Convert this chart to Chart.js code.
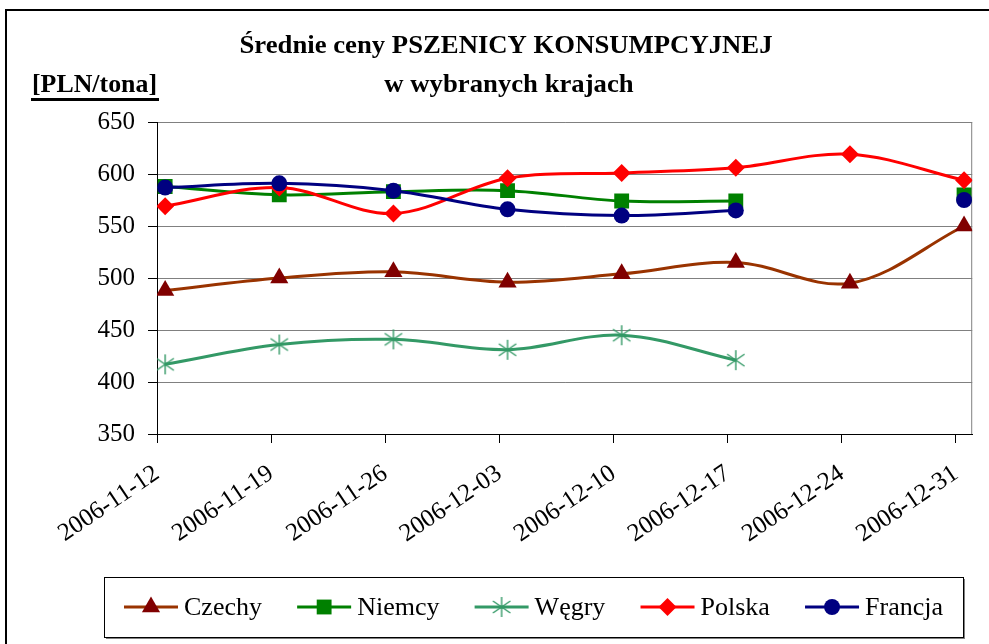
<!DOCTYPE html>
<html>
<head>
<meta charset="utf-8">
<script src="https://cdn.jsdelivr.net/npm/chart.js@4"></script>
<style>
  html, body { margin: 0; padding: 0; background: #fff; }
  #wrap { width: 989px; height: 644px; }
</style>
</head>
<body>
<div id="wrap"><canvas id="chart" width="989" height="644"></canvas></div>
<script>
// week labels on the x axis and where they sit (days from 2006-11-12)
const dates = ['2006-11-12', '2006-11-19', '2006-11-26', '2006-12-03', '2006-12-10', '2006-12-17', '2006-12-24', '2006-12-31'];
const tickDays = [0, 7, 14, 21, 28, 35, 42, 49];
// quotes are a bit to the right of each week tick
const pointDays = [0.5, 7.5, 14.5, 21.5, 28.5, 35.5, 42.5, 49.5];

const czechy  = [488, 500, 506, 496, 504, 515, 495, 550];
const niemcy  = [588, 580, 583, 584, 574, 574, null, 580];
const wegry   = [417, 436, 441, 431, 445, 421, null, null];
const polska  = [569, 587, 562, 596, 601, 606, 619, 594];
const francja = [587, 591, 584, 566, 560, 565, null, 575];

const seriesNames = ['Czechy', 'Niemcy', 'Węgry', 'Polska', 'Francja'];
const yTicks = [350, 400, 450, 500, 550, 600, 650];

const SERIF = '"Liberation Serif", "Times New Roman", serif';

// asterisk marker like the excel "star"
function makeStar(color, r) {
  const c = document.createElement('canvas');
  c.width = c.height = r * 2 + 2;
  const g = c.getContext('2d');
  g.strokeStyle = color;
  g.lineWidth = 1.4;
  const m = r + 1;
  g.beginPath();
  g.moveTo(m, m - r); g.lineTo(m, m + r);
  g.moveTo(m - r * 0.87, m - r * 0.6); g.lineTo(m + r * 0.87, m + r * 0.6);
  g.moveTo(m - r * 0.87, m + r * 0.6); g.lineTo(m + r * 0.87, m - r * 0.6);
  g.stroke();
  return c;
}
const starImg = makeStar('#339966', 10);

const styles = [
  { line: '#993300', fill: '#800000', point: 'triangle', r: 10.5 },
  { line: '#008000', fill: '#008000', point: 'rect', r: 10.5 },
  { line: '#339966', fill: '#339966', point: starImg, r: 10 },
  { line: '#ff0000', fill: '#ff0000', point: 'rectRot', r: 9 },
  { line: '#000080', fill: '#000080', point: 'circle', r: 8 }
];

const toPoints = (vals) => vals.map((v, i) => ({ x: pointDays[i], y: v }));
const allValues = [czechy, niemcy, wegry, polska, francja];

const datasets = allValues.map((vals, i) => ({
  label: seriesNames[i],
  data: toPoints(vals),
  borderColor: styles[i].line,
  backgroundColor: styles[i].fill,
  pointBackgroundColor: styles[i].fill,
  pointBorderColor: styles[i].fill,
  pointBorderWidth: 0,
  pointStyle: styles[i].point,
  pointRadius: styles[i].r,
  borderWidth: 3,
  tension: 0.35,
  spanGaps: false,
  order: allValues.length - i
}));

function fitText(ctx, text, cx, cy, scaleX) {
  ctx.save();
  ctx.translate(cx, cy);
  ctx.scale(scaleX, 1);
  ctx.fillText(text, 0, 0);
  ctx.restore();
}

const decorations = {
  id: 'decorations',
  beforeDraw(chart) {
    const ctx = chart.ctx;
    ctx.save();
    ctx.fillStyle = '#fff';
    ctx.fillRect(0, 0, chart.width, chart.height);
    // outer frame
    ctx.strokeStyle = '#000';
    ctx.lineWidth = 2;
    ctx.strokeRect(6, 10, 1000, 700);

    // title
    ctx.fillStyle = '#000';
    ctx.textAlign = 'center';
    ctx.textBaseline = 'middle';
    ctx.font = 'bold 25px ' + SERIF;
    const t1 = 'Średnie ceny PSZENICY KONSUMPCYJNEJ';
    const sx = 533 / ctx.measureText(t1).width;
    fitText(ctx, t1, 506, 47, sx);
    fitText(ctx, 'w wybranych krajach', 509, 86, sx);

    // unit label
    ctx.textAlign = 'left';
    const unit = '[PLN/tona]';
    const uw = ctx.measureText(unit).width;
    ctx.save();
    ctx.translate(32, 86);
    ctx.scale(125 / uw, 1);
    ctx.fillText(unit, 0, 0);
    ctx.restore();
    ctx.fillRect(31, 98, 128, 3);
    ctx.restore();
  },
  beforeDatasetsDraw(chart) {
    const { ctx, chartArea: a } = chart;
    ctx.save();
    ctx.strokeStyle = '#808080';
    ctx.lineWidth = 1;
    ctx.beginPath();
    ctx.moveTo(a.right - 0.5, a.top);
    ctx.lineTo(a.right - 0.5, a.bottom);
    ctx.stroke();
    ctx.restore();
  },
  afterDraw(chart) {
    const ctx = chart.ctx;
    const box = { x: 104, y: 577, w: 859, h: 60 };
    ctx.save();
    // legend box with a soft shadow
    ctx.strokeStyle = '#808080';
    ctx.lineWidth = 2;
    ctx.beginPath();
    ctx.moveTo(box.x + box.w + 1, box.y + 2);
    ctx.lineTo(box.x + box.w + 1, box.y + box.h + 1);
    ctx.lineTo(box.x + 2, box.y + box.h + 1);
    ctx.stroke();
    ctx.strokeStyle = '#000';
    ctx.lineWidth = 1;
    ctx.strokeRect(box.x + 0.5, box.y + 0.5, box.w, box.h);

    ctx.font = '26px ' + SERIF;
    ctx.textBaseline = 'middle';
    ctx.textAlign = 'left';
    const lineLen = 54, gapText = 6;
    const widths = seriesNames.map(n => lineLen + gapText + ctx.measureText(n).width);
    const used = widths.reduce((s, w) => s + w, 0);
    const gap = (box.w - 40 - used) / (seriesNames.length - 1);
    let x = box.x + 20;
    const cy = box.y + box.h / 2;
    seriesNames.forEach((name, i) => {
      const st = styles[i];
      ctx.strokeStyle = st.line;
      ctx.lineWidth = 3;
      ctx.beginPath();
      ctx.moveTo(x, cy);
      ctx.lineTo(x + lineLen, cy);
      ctx.stroke();
      ctx.fillStyle = st.fill;
      ctx.strokeStyle = st.fill;
      Chart.helpers.drawPoint(ctx, { pointStyle: st.point, radius: st.r, borderWidth: 0, rotation: 0 }, x + lineLen / 2, cy);
      ctx.fillStyle = '#000';
      ctx.fillText(name, x + lineLen + gapText, cy + 1);
      x += widths[i] + gap;
    });
    ctx.restore();
  }
};

new Chart(document.getElementById('chart'), {
  type: 'line',
  data: { datasets },
  options: {
    responsive: false,
    animation: false,
    layout: { padding: { top: 122, right: 16, left: 0, bottom: 0 } },
    plugins: {
      legend: { display: false },
      title: { display: false },
      tooltip: { enabled: false }
    },
    scales: {
      x: {
        type: 'linear',
        min: 0,
        max: 50,
        afterBuildTicks: (s) => { s.ticks = tickDays.map(v => ({ value: v })); },
        afterFit: (s) => { s.height = 210; },
        ticks: {
          autoSkip: false,
          minRotation: 34,
          maxRotation: 34,
          padding: 16,
          color: '#000',
          font: { family: SERIF, size: 25 },
          callback: (v) => dates[tickDays.indexOf(v)]
        },
        grid: { drawOnChartArea: false, tickLength: 9, tickColor: '#000' },
        border: { color: '#000', width: 1 }
      },
      y: {
        min: 350,
        max: 650,
        afterBuildTicks: (s) => { s.ticks = yTicks.map(v => ({ value: v })); },
        afterFit: (s) => { s.width = 157; },
        ticks: {
          padding: 13,
          color: '#000',
          font: { family: SERIF, size: 25 }
        },
        grid: { color: '#808080', tickLength: 9, tickColor: '#000' },
        border: { color: '#000', width: 1 }
      }
    }
  },
  plugins: [decorations]
});
</script>
</body>
</html>
